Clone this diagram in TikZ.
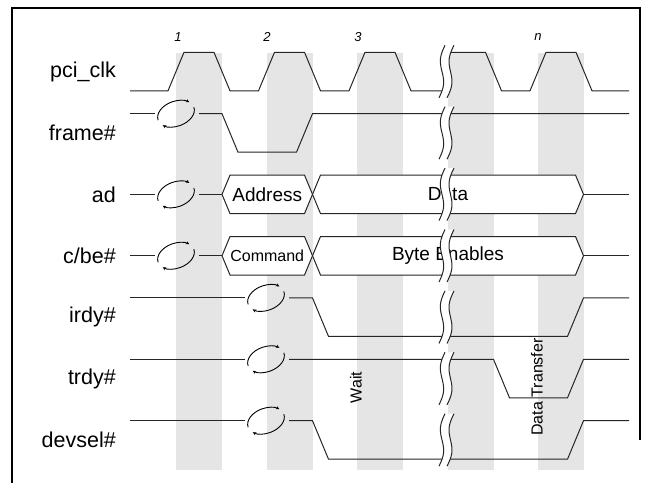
\documentclass[tikz,border=0pt]{standalone}
\usepackage{fontspec}
\setmainfont{Liberation Sans}
\usepackage{tikz}
\usetikzlibrary{arrows.meta, positioning}

%% wavy double break line over one signal row (top, bottom)
\newcommand{\breakmark}[2]{%
  \fill[white] plot[variable=\t, domain=0:1, samples=25, smooth]
      ({439+6*\t+3*sin(360*\t)}, {#2-(#2-#1)*\t})
    -- plot[variable=\t, domain=1:0, samples=25, smooth]
      ({447+7*\t+3*sin(360*\t)}, {#2-(#2-#1)*\t}) -- cycle;
  \draw[sig] plot[variable=\t, domain=0:1, samples=25, smooth]
      ({439+6*\t+3*sin(360*\t)}, {#2-(#2-#1)*\t});
  \draw[sig] plot[variable=\t, domain=0:1, samples=25, smooth]
      ({447+7*\t+3*sin(360*\t)}, {#2-(#2-#1)*\t});
}

%% turnaround cycle symbol (centre x, y)
\newcommand{\turnaround}[2]{%
  \begin{scope}[rotate around={20:(#1,#2)}]
    \draw[turnarr] (#1,#2) ++(180:19 and 12.5)
        arc[start angle=180, end angle=330, x radius=19, y radius=12.5];
    \draw[turnarr] (#1,#2) ++(0:19 and 12.5)
        arc[start angle=0, end angle=150, x radius=19, y radius=12.5];
  \end{scope}
}

\begin{document}
\begin{tikzpicture}[
    x=1pt, y=-1pt,
    sig/.style={line width=1pt, black!85},
    band/.style={fill=black!10},
    busbox/.style={sig, fill=white},
    turnarr/.style={line width=0.9pt, black,
                    -{Stealth[length=3.5pt, width=3.2pt]}},
    sigl/.style={font=\fontsize{21.5}{25}\selectfont, inner sep=0pt},
    bustxt/.style={font=\fontsize{19}{22}\selectfont, inner sep=0pt},
    note/.style={font=\fontsize{16}{18}\selectfont, inner sep=0pt, rotate=90},
    cyc/.style={font=\fontsize{13}{15}\selectfont\itshape, inner sep=0pt},
]
\useasboundingbox (0,0) rectangle (651,483);

%% Frame
\draw[line width=2pt] (12,483) -- (12,8) -- (640,8) -- (640,440);

%% Clock phase bands
\foreach \x in {176,266.5,357,447.5,538}
  \fill[band] (\x,52.5) rectangle ++(46,417);

%% Cycle numbers
\node[cyc] (c1) at (178,37) {1};
\node[cyc] (c2) at (267,37) {2};
\node[cyc] (c3) at (358,37) {3};
\node[cyc] (cn) at (538,37) {n};

%% Signal names
\coordinate (r0) at (130,72);
\coordinate (r1) at (130,133);
\coordinate (r2) at (130,194.35);
\coordinate (r3) at (130,255.75);
\coordinate (r4) at (130,317.2);
\coordinate (r5) at (130,378.6);
\coordinate (r6) at (130,440);
\node[sigl, anchor=east, left=14pt of r0] (lclk)   {pci\_clk};
\node[sigl, anchor=east, left=14pt of r1] (lframe) {frame\#};
\node[sigl, anchor=east, left=14pt of r2] (lad)    {ad};
\node[sigl, anchor=east, left=14pt of r3] (lcbe)   {c/be\#};
\node[sigl, anchor=east, left=14pt of r4] (lirdy)  {irdy\#};
\node[sigl, anchor=east, left=14pt of r5] (ltrdy)  {trdy\#};
\node[sigl, anchor=east, left=14pt of r6] (ldev)   {devsel\#};

%% pci_clk
\draw[sig] (130,90.8) foreach \s in {168,258.5,349} {
    -- (\s,90.8) -- (\s+16,52.3) -- (\s+46,52.3) -- (\s+62,90.8) } -- (446,90.8);
\draw[sig] (446,52.3) -- (485.5,52.3) -- (501.5,90.8) -- (530,90.8)
    -- (546,52.3) -- (576,52.3) -- (592,90.8) -- (629,90.8);

%% frame#
\draw[sig] (130,113.7) -- (155,113.7);
\draw[sig] (199,113.7) -- (222,113.7) -- (238,152.2) -- (296.5,152.2)
    -- (312.5,113.7) -- (629,113.7);

%% ad
\draw[sig] (130,194.35) -- (155,194.35);
\draw[sig] (199,194.35) -- (222,194.35);
\draw[busbox] (222,194.35) -- (230,175.1) -- (304.5,175.1) -- (312.5,194.35)
    -- (304.5,213.6) -- (230,213.6) -- cycle;
\draw[busbox] (312.5,194.35) -- (320.5,175.1) -- (575.5,175.1) -- (583.5,194.35)
    -- (575.5,213.6) -- (320.5,213.6) -- cycle;
\draw[sig] (583.5,194.35) -- (629,194.35);
\node[bustxt] (addr) at (267.25,194.35) {Address};
\node[bustxt] (data) at (448,194.35) {Data};

%% c/be#
\draw[sig] (130,255.75) -- (155,255.75);
\draw[sig] (199,255.75) -- (222,255.75);
\draw[busbox] (222,255.75) -- (230,236.5) -- (304.5,236.5) -- (312.5,255.75)
    -- (304.5,275) -- (230,275) -- cycle;
\draw[busbox] (312.5,255.75) -- (320.5,236.5) -- (575.5,236.5) -- (583.5,255.75)
    -- (575.5,275) -- (320.5,275) -- cycle;
\draw[sig] (583.5,255.75) -- (629,255.75);
\node[bustxt, font=\fontsize{16}{18}\selectfont] (cmd) at (267.25,255.75) {Command};
\node[bustxt] (be) at (448,255.75) {Byte Enables};

%% irdy#
\draw[sig] (130,297.9) -- (245,297.9);
\draw[sig] (289,297.9) -- (312.5,297.9) -- (328.5,336.4) -- (567.5,336.4)
    -- (583.5,297.9) -- (629,297.9);

%% trdy#
\draw[sig] (130,359.3) -- (245,359.3);
\draw[sig] (289,359.3) -- (493.5,359.3) -- (509.5,397.8) -- (567.5,397.8)
    -- (583.5,359.3) -- (629,359.3);

%% devsel#
\draw[sig] (130,420.7) -- (245,420.7);
\draw[sig] (289,420.7) -- (312.5,420.7) -- (328.5,459.2) -- (567.5,459.2)
    -- (583.5,420.7) -- (629,420.7);

%% Phase notes
\node[note] (wait) at (356,387.5) {Wait};
\node[note] (xfer) at (537,387) {Data Transfer};

%% Time breaks
\breakmark{45.3}{97.8}
\breakmark{106.7}{159.2}
\breakmark{168.1}{220.6}
\breakmark{229.5}{282}
\breakmark{290.9}{343.4}
\breakmark{352.3}{404.8}
\breakmark{413.7}{466.2}

%% Turnaround cycles
\turnaround{176}{113.7}
\turnaround{176}{194.35}
\turnaround{176}{255.75}
\turnaround{266}{297.9}
\turnaround{266}{359.3}
\turnaround{266}{420.7}

\end{tikzpicture}
\end{document}
